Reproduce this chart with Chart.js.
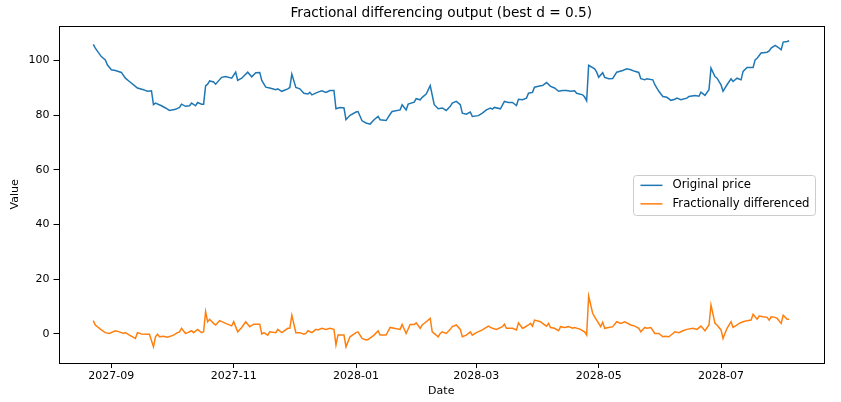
<!DOCTYPE html>
<html>
<head>
<meta charset="utf-8">
<script src="https://cdn.jsdelivr.net/npm/chart.js@4"></script>
<style>
  html, body { margin: 0; padding: 0; background: #fff; }
  canvas { display: block; }
</style>
</head>
<body>
<canvas id="fracChart" width="841" height="402"></canvas>
<script>
// values
const priceDates = [
  '2027-08-23','2027-08-24','2027-08-27','2027-08-29','2027-08-30','2027-09-01','2027-09-03','2027-09-06','2027-09-08','2027-09-10',
  '2027-09-13','2027-09-14','2027-09-17','2027-09-19','2027-09-21','2027-09-22','2027-09-23','2027-09-26','2027-09-28','2027-09-30',
  '2027-10-03','2027-10-05','2027-10-06','2027-10-08','2027-10-10','2027-10-11','2027-10-13','2027-10-14','2027-10-16','2027-10-17',
  '2027-10-18','2027-10-19','2027-10-20','2027-10-22','2027-10-23','2027-10-26','2027-10-28','2027-10-31','2027-11-02','2027-11-03',
  '2027-11-05','2027-11-08','2027-11-10','2027-11-12','2027-11-14','2027-11-15','2027-11-17','2027-11-19','2027-11-22','2027-11-23',
  '2027-11-25','2027-11-28','2027-11-29','2027-11-30','2027-12-02','2027-12-04','2027-12-06','2027-12-08','2027-12-09','2027-12-10',
  '2027-12-13','2027-12-15','2027-12-17','2027-12-19','2027-12-21','2027-12-22','2027-12-24','2027-12-26','2027-12-27','2027-12-29',
  '2028-01-01','2028-01-02','2028-01-04','2028-01-06','2028-01-08','2028-01-10','2028-01-12','2028-01-13','2028-01-16','2028-01-18',
  '2028-01-19','2028-01-23','2028-01-24','2028-01-26','2028-01-27','2028-01-30','2028-01-31','2028-02-02','2028-02-03','2028-02-05',
  '2028-02-07','2028-02-09','2028-02-11','2028-02-13','2028-02-15','2028-02-17','2028-02-18','2028-02-20','2028-02-22','2028-02-23',
  '2028-02-25','2028-02-27','2028-02-28','2028-03-02','2028-03-04','2028-03-06','2028-03-08','2028-03-09','2028-03-10','2028-03-13',
  '2028-03-15','2028-03-17','2028-03-19','2028-03-21','2028-03-22','2028-03-24','2028-03-26','2028-03-27','2028-03-29','2028-03-30',
  '2028-04-02','2028-04-03','2028-04-05','2028-04-07','2028-04-09','2028-04-11','2028-04-13','2028-04-15','2028-04-17','2028-04-19',
  '2028-04-20','2028-04-23','2028-04-24','2028-04-25','2028-04-26','2028-04-29','2028-04-30','2028-05-01','2028-05-03','2028-05-04',
  '2028-05-06','2028-05-08','2028-05-10','2028-05-13','2028-05-15','2028-05-17','2028-05-19','2028-05-21','2028-05-22','2028-05-24',
  '2028-05-25','2028-05-28','2028-05-29','2028-05-31','2028-06-02','2028-06-04','2028-06-06','2028-06-08','2028-06-09','2028-06-11',
  '2028-06-14','2028-06-15','2028-06-18','2028-06-20','2028-06-21','2028-06-23','2028-06-25','2028-06-26','2028-06-28','2028-06-29',
  '2028-07-01','2028-07-02','2028-07-04','2028-07-06','2028-07-07','2028-07-09','2028-07-11','2028-07-12','2028-07-14','2028-07-17',
  '2028-07-18','2028-07-19','2028-07-21','2028-07-24','2028-07-25','2028-07-26','2028-07-28','2028-07-30','2028-07-31','2028-08-01',
  '2028-08-03','2028-08-04'
];
const priceValues = [
  105.9,104.5,101.4,100.2,98.4,96.6,96.3,95.6,93.5,92.3,
  90.5,89.9,89.3,88.7,88.9,83.8,84.4,83.4,82.6,81.7,
  82.1,82.8,84.0,83.2,83.4,84.4,83.4,84.6,84.0,84.0,
  90.7,91.3,92.5,92.1,91.3,93.8,94.1,93.5,95.7,92.7,
  93.5,95.7,94.0,95.5,95.6,92.7,90.2,89.9,89.3,89.6,
  88.7,89.6,90.1,95.0,90.1,89.6,88.0,87.7,88.3,87.4,
  88.4,88.9,88.3,89.0,89.0,82.3,82.8,82.6,78.3,79.9,
  81.1,81.3,77.9,77.1,76.7,78.3,79.5,78.3,78.0,80.3,
  81.3,81.9,83.8,81.9,84.0,84.7,86.0,85.6,86.5,87.7,
  90.8,83.8,82.3,82.6,81.7,83.2,84.4,85.0,83.8,80.7,
  80.3,81.1,79.5,79.8,80.7,81.9,82.6,82.2,82.8,82.3,
  85.0,84.6,84.6,83.5,85.8,85.6,86.2,88.0,88.3,90.2,
  90.7,90.8,91.9,90.5,89.9,88.7,89.0,89.0,88.7,88.9,
  88.0,87.4,86.6,85.2,98.2,96.9,95.7,93.8,95.5,93.8,
  93.3,93.4,95.7,96.3,96.9,96.6,96.0,95.6,93.3,92.9,
  93.3,92.9,91.1,88.7,86.8,86.5,85.4,85.8,86.2,85.6,
  86.2,86.8,87.2,86.9,88.4,87.2,89.3,97.2,94.1,93.5,
  91.1,88.7,91.1,93.3,92.3,93.5,92.9,96.0,97.4,97.4,
  100.2,100.8,102.7,103.0,103.5,104.5,105.5,104.5,103.9,106.7,
  106.9,107.2
];

const fracDates = [
  '2027-08-23','2027-08-24','2027-08-27','2027-08-29','2027-08-31','2027-09-03','2027-09-05','2027-09-07','2027-09-08','2027-09-10',
  '2027-09-13','2027-09-14','2027-09-16','2027-09-19','2027-09-20','2027-09-22','2027-09-23','2027-09-24','2027-09-25','2027-09-27',
  '2027-09-29','2027-10-02','2027-10-04','2027-10-05','2027-10-06','2027-10-08','2027-10-09','2027-10-11','2027-10-12','2027-10-14',
  '2027-10-16','2027-10-17','2027-10-18','2027-10-19','2027-10-20','2027-10-22','2027-10-23','2027-10-25','2027-10-28','2027-10-31',
  '2027-11-01','2027-11-03','2027-11-05','2027-11-07','2027-11-09','2027-11-11','2027-11-14','2027-11-15','2027-11-16','2027-11-18',
  '2027-11-19','2027-11-22','2027-11-23','2027-11-25','2027-11-28','2027-11-29','2027-11-30','2027-12-02','2027-12-04','2027-12-06',
  '2027-12-07','2027-12-08','2027-12-10','2027-12-12','2027-12-13','2027-12-15','2027-12-17','2027-12-19','2027-12-21','2027-12-22',
  '2027-12-23','2027-12-26','2027-12-27','2027-12-29','2028-01-01','2028-01-02','2028-01-04','2028-01-06','2028-01-07','2028-01-10',
  '2028-01-12','2028-01-13','2028-01-16','2028-01-18','2028-01-20','2028-01-23','2028-01-24','2028-01-26','2028-01-28','2028-01-30',
  '2028-01-31','2028-02-02','2028-02-03','2028-02-05','2028-02-07','2028-02-08','2028-02-11','2028-02-12','2028-02-13','2028-02-15',
  '2028-02-17','2028-02-18','2028-02-20','2028-02-22','2028-02-23','2028-02-25','2028-02-27','2028-02-28','2028-03-01','2028-03-04',
  '2028-03-06','2028-03-07','2028-03-09','2028-03-11','2028-03-14','2028-03-15','2028-03-16','2028-03-19','2028-03-21','2028-03-22',
  '2028-03-24','2028-03-25','2028-03-27','2028-03-28','2028-03-29','2028-03-30','2028-04-02','2028-04-03','2028-04-05','2028-04-06',
  '2028-04-07','2028-04-09','2028-04-11','2028-04-12','2028-04-14','2028-04-16','2028-04-18','2028-04-19','2028-04-22','2028-04-23',
  '2028-04-24','2028-04-25','2028-04-26','2028-04-28','2028-04-29','2028-05-01','2028-05-02','2028-05-03','2028-05-04','2028-05-06',
  '2028-05-08','2028-05-10','2028-05-12','2028-05-14','2028-05-17','2028-05-19','2028-05-21','2028-05-22','2028-05-24','2028-05-25',
  '2028-05-27','2028-05-29','2028-05-31','2028-06-02','2028-06-03','2028-06-05','2028-06-07','2028-06-08','2028-06-10','2028-06-12',
  '2028-06-14','2028-06-17','2028-06-19','2028-06-21','2028-06-23','2028-06-25','2028-06-26','2028-06-28','2028-06-29','2028-07-01',
  '2028-07-02','2028-07-04','2028-07-06','2028-07-07','2028-07-09','2028-07-10','2028-07-12','2028-07-14','2028-07-16','2028-07-17',
  '2028-07-19','2028-07-20','2028-07-22','2028-07-24','2028-07-25','2028-07-26','2028-07-28','2028-07-29','2028-07-31','2028-08-01',
  '2028-08-03','2028-08-04'
];
const fracValues = [
  4.8,3.2,1.4,0.4,0.1,1.1,0.7,0.1,0.4,-0.5,
  -1.7,0.4,-0.1,-0.2,-0.2,-4.8,-1.1,-0.2,-1.1,-0.9,
  -1.3,-0.5,0.4,0.7,2.0,0.1,0.4,1.1,0.4,1.6,
  0.4,0.7,8.1,4.4,5.3,3.8,3.2,4.8,3.8,2.9,
  4.4,0.7,2.3,4.4,2.6,3.5,3.5,-0.1,0.4,-0.5,
  0.7,0.4,1.6,0.4,2.0,2.0,6.8,0.4,0.4,-0.2,
  0.1,1.1,0.4,1.6,1.4,2.0,1.6,2.0,1.6,-4.1,
  -0.5,-0.5,-4.8,-1.1,0.4,0.7,-1.7,-2.3,-2.1,-0.5,
  1.1,-0.5,-0.5,2.3,2.0,1.6,3.4,0.1,3.4,3.4,
  4.0,2.0,3.2,4.4,5.6,0.7,-1.1,0.1,0.7,0.1,
  1.6,2.6,3.2,1.6,-1.1,-0.5,0.7,-0.5,0.4,1.4,
  2.3,2.8,2.0,1.6,2.6,3.5,2.0,2.0,1.4,4.0,
  2.0,2.3,3.2,3.8,2.8,5.0,4.4,3.8,2.8,3.8,
  2.3,2.0,1.1,2.6,2.3,2.6,2.0,2.3,1.6,1.1,
  0.7,-0.5,13.8,7.5,6.2,3.8,2.6,4.2,2.0,2.3,
  2.6,4.4,3.8,4.4,3.2,2.8,2.0,0.7,2.3,2.0,
  2.3,0.1,0.1,-1.1,-0.9,-1.1,0.1,0.7,0.4,1.1,
  1.6,2.0,1.6,2.8,1.1,3.2,10.5,3.8,3.2,1.4,
  -1.7,2.0,4.4,2.3,3.2,3.8,4.4,4.8,5.0,7.1,
  5.3,6.5,6.2,6.0,5.0,6.2,6.0,5.6,3.8,6.8,
  5.3,5.3
];

const seriesLabels = ['Original price', 'Fractionally differenced'];
const xTickLabels = ['2027-09', '2027-11', '2028-01', '2028-03', '2028-05', '2028-07'];
const yTickValues = [0, 20, 40, 60, 80, 100];
const chartTitle = 'Fractional differencing output (best d = 0.5)';

const FONT = "'DejaVu Sans', 'Liberation Sans', sans-serif";

function dayNum(s) {
  const p = s.split('-').map(Number);
  return Date.UTC(p[0], p[1] - 1, p[2] || 1) / 86400000;
}

function toPoints(dates, values) {
  return dates.map((d, i) => ({ x: dayNum(d), y: values[i] }));
}

const xTicks = xTickLabels.map(dayNum);
const allDays = priceDates.concat(fracDates).map(dayNum);
const firstDay = Math.min(...allDays);
const lastDay = Math.max(...allDays);
const xPad = (lastDay - firstDay) * 0.05;

// box around the plot + title centred over the plot area (matplotlib style)
const frame = {
  id: 'frame',
  afterDatasetsDraw(chart) {
    const { ctx, chartArea: a } = chart;
    ctx.save();
    ctx.strokeStyle = '#000';
    ctx.lineWidth = 1;
    ctx.strokeRect(Math.round(a.left) + 0.5, Math.round(a.top) + 0.5,
      Math.round(a.right - a.left) - 1, Math.round(a.bottom - a.top));
    ctx.fillStyle = '#000';
    ctx.font = '13.7px ' + FONT;
    ctx.textAlign = 'center';
    ctx.textBaseline = 'middle';
    ctx.fillText(chartTitle, (a.left + a.right) / 2, 13);
    ctx.restore();
  }
};

// legend drawn inside the plot, center right
const insideLegend = {
  id: 'insideLegend',
  afterDraw(chart) {
    const { ctx, chartArea: a } = chart;
    const sets = chart.data.datasets;
    ctx.save();
    ctx.font = '11.7px ' + FONT;
    const textW = Math.max(...sets.map(s => ctx.measureText(s.label).width));
    const w = 7 + 22 + 10 + textW + 6;
    const rowH = 18.5;
    const h = sets.length * rowH + 3;
    const x = a.right - 8.5 - w;
    const y = (a.top + a.bottom) / 2 - h / 2 + 0.5;
    ctx.beginPath();
    ctx.roundRect(Math.round(x) + 0.5, Math.round(y) + 0.5, Math.round(w), Math.round(h), 3);
    ctx.fillStyle = 'rgba(255,255,255,0.8)';
    ctx.fill();
    ctx.strokeStyle = '#cccccc';
    ctx.lineWidth = 1;
    ctx.stroke();
    sets.forEach((s, i) => {
      const cy = y + 10.5 + i * rowH;
      ctx.beginPath();
      ctx.moveTo(x + 7, cy);
      ctx.lineTo(x + 29, cy);
      ctx.strokeStyle = s.borderColor;
      ctx.lineWidth = 1.5;
      ctx.stroke();
      ctx.fillStyle = '#000';
      ctx.textBaseline = 'middle';
      ctx.fillText(s.label, x + 39, cy);
    });
    ctx.restore();
  }
};

new Chart(document.getElementById('fracChart'), {
  type: 'line',
  data: {
    datasets: [
      {
        label: seriesLabels[0],
        data: toPoints(priceDates, priceValues),
        borderColor: '#1f77b4',
        backgroundColor: '#1f77b4',
        borderWidth: 1.5,
        pointRadius: 0,
        tension: 0
      },
      {
        label: seriesLabels[1],
        data: toPoints(fracDates, fracValues),
        borderColor: '#ff7f0e',
        backgroundColor: '#ff7f0e',
        borderWidth: 1.5,
        pointRadius: 0,
        tension: 0
      }
    ]
  },
  plugins: [frame, insideLegend],
  options: {
    responsive: false,
    animation: false,
    devicePixelRatio: 1,
    layout: { padding: { left: 0, right: 17, top: 25.7, bottom: 0 } },
    plugins: {
      legend: { display: false },
      tooltip: { enabled: false },
      title: { display: false }
    },
    scales: {
      x: {
        type: 'linear',
        min: firstDay - xPad,
        max: lastDay + xPad,
        afterBuildTicks: (axis) => { axis.ticks = xTicks.map(v => ({ value: v })); },
        afterFit: (axis) => { axis.height = 39; },
        border: { display: false },
        grid: { display: true, drawOnChartArea: false, drawTicks: true, tickLength: 5, color: '#000' },
        ticks: {
          color: '#000',
          font: { family: FONT, size: 11 },
          padding: 2,
          maxRotation: 0,
          autoSkip: false,
          callback: (v) => {
            const i = xTicks.indexOf(v);
            return i >= 0 ? xTickLabels[i] : '';
          }
        },
        title: {
          display: true,
          text: 'Date',
          color: '#000',
          font: { family: FONT, size: 11 },
          padding: { top: 0, bottom: 4 }
        }
      },
      y: {
        type: 'linear',
        min: -10.7,
        max: 112.7,
        afterBuildTicks: (axis) => { axis.ticks = yTickValues.map(v => ({ value: v })); },
        afterFit: (axis) => { axis.width = 58.5; },
        border: { display: false },
        grid: { display: true, drawOnChartArea: false, drawTicks: true, tickLength: 5, color: '#000' },
        ticks: {
          color: '#000',
          font: { family: FONT, size: 11 },
          padding: 4
        },
        title: {
          display: true,
          text: 'Value',
          color: '#000',
          font: { family: FONT, size: 11 },
          padding: { top: 9, bottom: 0 }
        }
      }
    }
  }
});
</script>
</body>
</html>
